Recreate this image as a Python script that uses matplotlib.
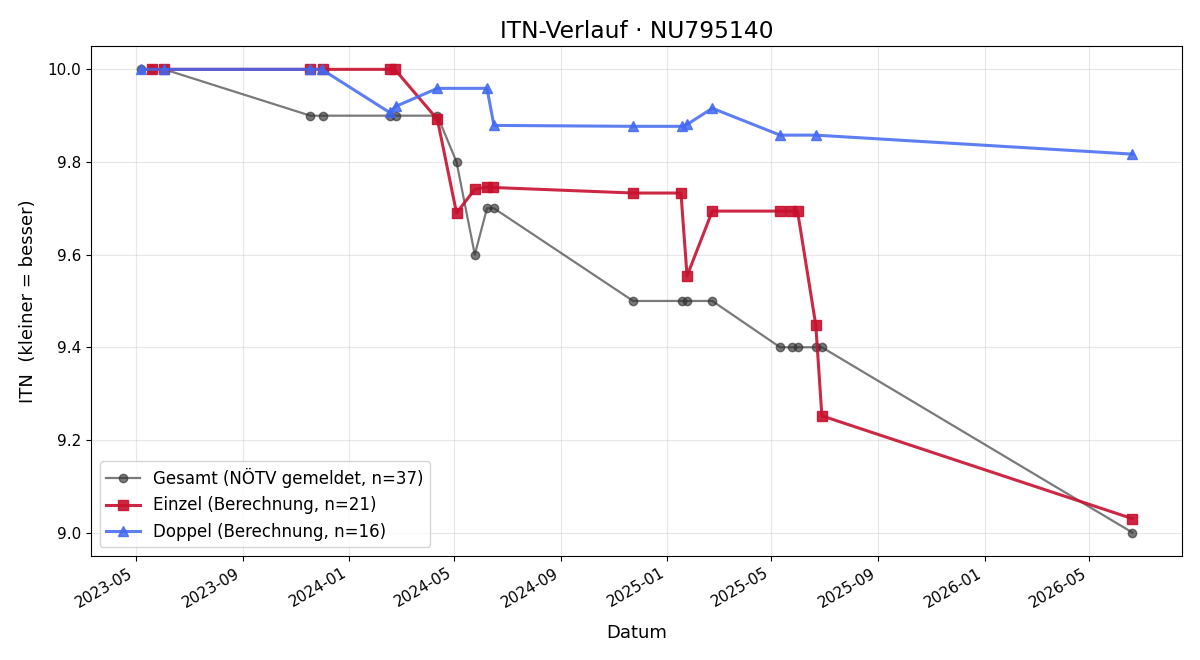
import matplotlib
matplotlib.use("Agg")
import matplotlib.pyplot as plt
import matplotlib.dates as mdates
import pandas as pd

# ITN-Werte
gesamt_dates = ["2023-05-07", "2023-05-20", "2023-06-03", "2023-11-18", "2023-12-02",
                "2024-02-17", "2024-02-24", "2024-04-12", "2024-05-04", "2024-05-25",
                "2024-06-08", "2024-06-16", "2024-11-23", "2025-01-18", "2025-01-24",
                "2025-02-22", "2025-05-11", "2025-05-25", "2025-06-01", "2025-06-21",
                "2025-06-28", "2026-06-20"]
gesamt_itn = [10.0, 10.0, 10.0, 9.9, 9.9,
              9.9, 9.9, 9.9, 9.8, 9.6,
              9.7, 9.7, 9.5, 9.5, 9.5,
              9.5, 9.4, 9.4, 9.4, 9.4,
              9.4, 9.0]

einzel_dates = ["2023-05-20", "2023-06-03", "2023-11-18", "2023-12-02", "2024-02-17",
                "2024-02-23", "2024-04-12", "2024-05-04", "2024-05-25", "2024-06-08",
                "2024-06-15", "2024-11-23", "2025-01-17", "2025-01-24", "2025-02-22",
                "2025-05-11", "2025-05-24", "2025-05-31", "2025-06-21", "2025-06-28",
                "2026-06-20"]
einzel_itn = [10.0, 10.0, 10.0, 10.0, 10.0,
              10.0, 9.892, 9.690, 9.741, 9.746,
              9.745, 9.733, 9.733, 9.554, 9.694,
              9.694, 9.694, 9.694, 9.448, 9.252,
              9.030]

doppel_dates = ["2023-05-07", "2023-06-03", "2023-11-18", "2023-12-01", "2024-02-17",
                "2024-02-24", "2024-04-12", "2024-06-08", "2024-06-16", "2024-11-23",
                "2025-01-18", "2025-01-24", "2025-02-22", "2025-05-11", "2025-06-21",
                "2026-06-20"]
doppel_itn = [10.0, 10.0, 10.0, 10.0, 9.907,
              9.920, 9.959, 9.959, 9.879, 9.877,
              9.877, 9.881, 9.916, 9.858, 9.858,
              9.817]

fig, ax = plt.subplots(figsize=(12, 6.6), dpi=100)

ax.plot(pd.to_datetime(gesamt_dates), gesamt_itn, marker="o", markersize=6,
        color="#333333", alpha=0.65, linewidth=1.6,
        label="Gesamt (NÖTV gemeldet, n=37)")
ax.plot(pd.to_datetime(einzel_dates), einzel_itn, marker="s", markersize=7,
        color="#c8102e", alpha=0.9, linewidth=2.2,
        label="Einzel (Berechnung, n=21)")
ax.plot(pd.to_datetime(doppel_dates), doppel_itn, marker="^", markersize=7,
        color="#4169f0", alpha=0.85, linewidth=2.2,
        label="Doppel (Berechnung, n=16)")

ax.set_title("ITN-Verlauf · NU795140", fontsize=16.8)
ax.set_xlabel("Datum", fontsize=13, labelpad=10)
ax.set_ylabel("ITN  (kleiner = besser)", fontsize=13, labelpad=8)
ax.grid(True, alpha=0.3)
ax.xaxis.set_major_locator(mdates.MonthLocator(bymonth=[1, 5, 9]))
ax.xaxis.set_major_formatter(mdates.DateFormatter("%Y-%m"))
ax.tick_params(labelsize=11)
ax.legend(loc="lower left", fontsize=12)
fig.autofmt_xdate()

fig.subplots_adjust(left=0.076, right=0.985, top=0.930, bottom=0.158)
fig.savefig("out.png")
